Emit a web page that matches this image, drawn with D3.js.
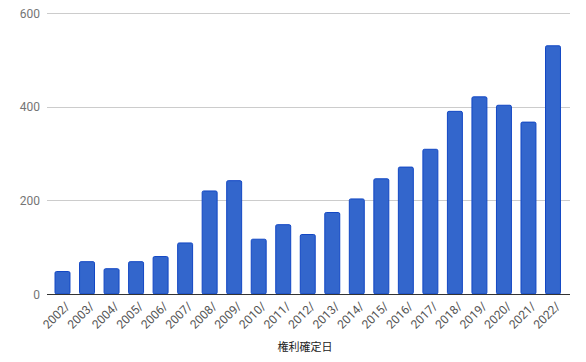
<!DOCTYPE html>
<html><head><meta charset="utf-8">
<script src="https://cdn.jsdelivr.net/npm/d3@7"></script>
<style>body{margin:0;background:#fff}svg{display:block}</style>
</head><body>
<script>
const categories = ["2002/","2003/","2004/","2005/","2006/","2007/","2008/","2009/","2010/","2011/","2012/","2013/","2014/","2015/","2016/","2017/","2018/","2019/","2020/","2021/","2022/"];
const values = [48,69,54,69,80,109,220,242,117,148,127,174,203,246,271,309,390,421,403,367,530];
const yTicks = [0,200,400,600];
const xTitle = "権利確定日";

const W=586,H=362;
const svg=d3.select("body").append("svg").attr("width",W).attr("height",H);
const x=d3.scaleBand().domain(categories).range([50.24,565.26]).paddingInner(0.39).paddingOuter(0.195);
const y=d3.scaleLinear().domain([0,600]).range([294,13]);
const left=47,right=570;

svg.append("g").selectAll("line").data(yTicks.filter(d=>d>0)).join("line")
 .attr("x1",left).attr("x2",right).attr("y1",d=>Math.round(y(d))+0.5).attr("y2",d=>Math.round(y(d))+0.5)
 .attr("stroke","#cccccc").attr("stroke-width",1);

svg.append("g").selectAll("text").data(yTicks).join("text")
 .attr("x",40).attr("y",d=>y(d)+4.5).attr("text-anchor","end")
 .attr("font-family","Roboto, Arial, sans-serif").attr("font-size",12).attr("fill","#757575").text(d=>d);

svg.append("g").selectAll("rect").data(values).join("rect")
 .attr("x",(d,i)=>x(categories[i])).attr("width",x.bandwidth())
 .attr("y",d=>y(d)).attr("height",d=>y(0)-y(d))
 .attr("rx",1.5)
 .attr("fill","#3366cc").attr("stroke","#1247c4").attr("stroke-width",1);

svg.append("line").attr("x1",left).attr("x2",right).attr("y1",294.5).attr("y2",294.5)
 .attr("stroke","#333333").attr("stroke-width",1.2);

svg.append("g").selectAll("text").data(categories).join("text")
 .attr("transform",d=>`translate(${x(d)+x.bandwidth()/2+8},${307}) rotate(-45)`)
 .attr("text-anchor","end")
 .attr("font-family","Roboto, Arial, sans-serif").attr("font-size",12).attr("fill","#555555").text(d=>d);

svg.append("text").attr("x",305).attr("y",351).attr("text-anchor","middle")
 .attr("font-family","'Noto Sans CJK JP', sans-serif").attr("font-size",11).attr("fill","#222222").text(xTitle);
</script>
</body></html>
